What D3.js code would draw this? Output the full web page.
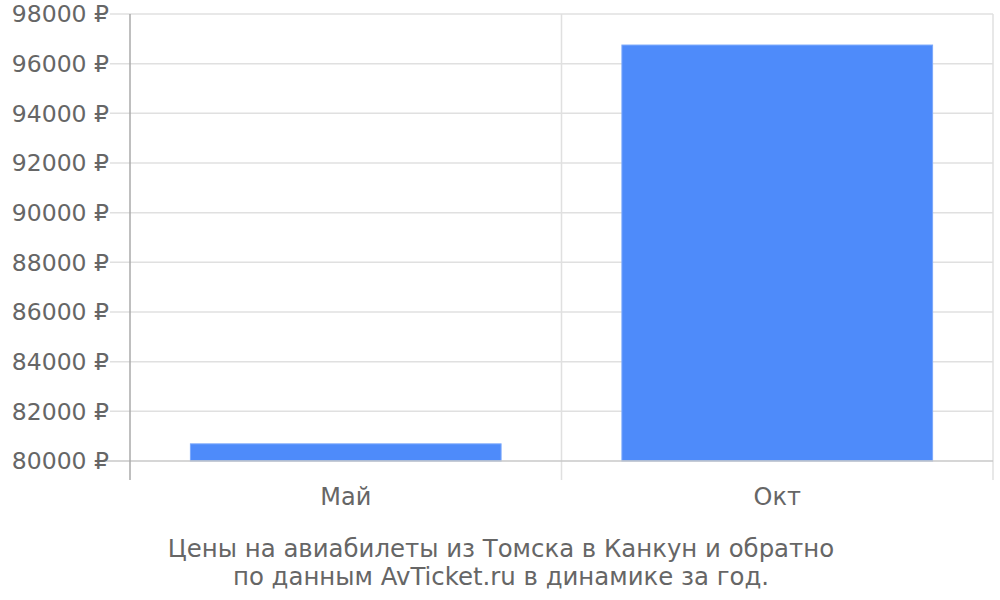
<!DOCTYPE html>
<html><head><meta charset="utf-8">
<script src="https://cdn.jsdelivr.net/npm/d3@7"></script>
<style>body{margin:0;background:#fff}svg{display:block}text{font-family:"DejaVu Sans",sans-serif}</style>
</head><body>
<svg id="c" width="1000" height="600"></svg>
<script>
const categories = ["Май", "Окт"];
const values = [80690, 96750];
const yTicks = [80000, 82000, 84000, 86000, 88000, 90000, 92000, 94000, 96000, 98000];
const titleLines = ["Цены на авиабилеты из Томска в Канкун и обратно", "по данным AvTicket.ru в динамике за год."];

const svg = d3.select("#c");
const L = 130, R = 993, T = 14, B = 461, B2 = 480;
const x = d3.scaleBand().domain(categories).range([L, R]).paddingInner(0.28).paddingOuter(0.14);
const xb = d3.scaleBand().domain(categories).range([L, R]);
const y = d3.scaleLinear().domain([80000, 98000]).range([B, T]);

// horizontal grid
svg.append("g").selectAll("line").data(yTicks.filter(d => d !== 80000)).join("line")
  .attr("x1", 110).attr("x2", R).attr("y1", d => y(d)).attr("y2", d => y(d))
  .attr("stroke", "#e0e0e0").attr("stroke-width", 1.5);
// vertical grid
svg.append("g").selectAll("line").data(categories.slice(1).map(c => xb(c)).concat([R])).join("line")
  .attr("x1", d => d).attr("x2", d => d).attr("y1", T).attr("y2", B2)
  .attr("stroke", "#e0e0e0").attr("stroke-width", 1.5);

// bars
svg.append("g").selectAll("rect").data(categories).join("rect")
  .attr("x", d => x(d)).attr("width", x.bandwidth())
  .attr("y", (d, i) => y(values[i])).attr("height", (d, i) => B - y(values[i]))
  .attr("fill", "#4e8bfa").attr("stroke", "#7aa8fb").attr("stroke-width", 1);

// axes lines
svg.append("line").attr("x1", 100).attr("x2", R).attr("y1", B).attr("y2", B)
  .attr("stroke", "#c8c8c8").attr("stroke-width", 1.5);
svg.append("line").attr("x1", L).attr("x2", L).attr("y1", T).attr("y2", B2)
  .attr("stroke", "#aaaaaa").attr("stroke-width", 1.5);

// y labels
svg.append("g").selectAll("text").data(yTicks).join("text")
  .attr("x", 109).attr("y", d => y(d)).attr("dy", "0.35em")
  .attr("text-anchor", "end").attr("fill", "#666").attr("font-size", 23.5)
  .text(d => d + " ₽");
// x labels
svg.append("g").selectAll("text").data(categories).join("text")
  .attr("x", d => xb(d) + xb.bandwidth() / 2).attr("y", 497).attr("dy", "0.35em")
  .attr("text-anchor", "middle").attr("fill", "#666").attr("font-size", 24)
  .text(d => d);
// title
svg.append("g").selectAll("text").data(titleLines).join("text")
  .attr("x", 501).attr("y", (d, i) => 548 + i * 28).attr("dy", "0.35em")
  .attr("text-anchor", "middle").attr("fill", "#666").attr("font-size", 24.4)
  .text(d => d);
</script>
</body></html>
